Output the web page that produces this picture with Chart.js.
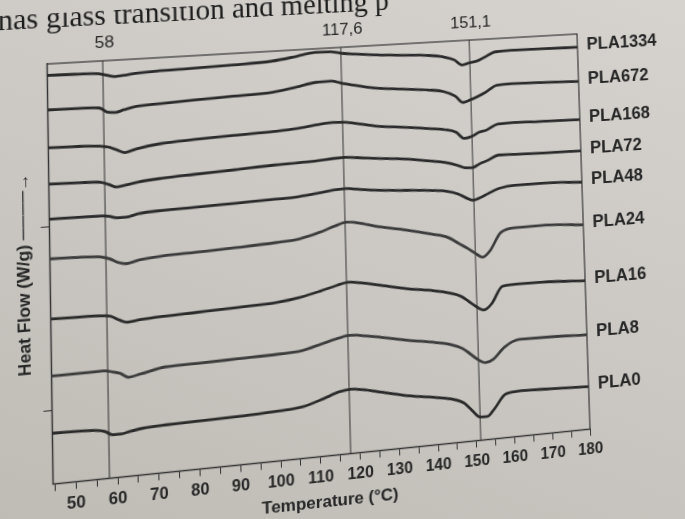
<!DOCTYPE html>
<html lang="en">
<head>
  <meta charset="UTF-8">
  <script src="https://cdn.jsdelivr.net/npm/chart.js"></script>
  <title>DSC PLA</title>
  <style>
    body { margin: 0; width: 685px; height: 519px; overflow: hidden;
           background: linear-gradient(20deg, #bfbbb5 0%, #cac7c2 45%, #d6d3ce 100%); }
    #wrap { position: absolute; left: 0; top: 0; width: 685px; height: 519px; transform-origin: 0 0; }
  </style>
</head>
<body>
  <div id="wrap"><canvas id="dsc" width="685" height="519"></canvas></div>

  <script>
    // temperatures (°C) shared by every curve
    const temps = [44.5, 52, 57, 59, 61, 63, 66, 72, 80, 90, 100, 106, 111, 115, 118, 121, 126, 133, 140, 144, 147, 149, 151, 153, 155, 158, 162, 170, 180]

    // heat flow (curves are stacked with an offset)
    const PLA1334 = [1.836, 1.834, 1.829, 1.818, 1.808, 1.812, 1.820, 1.826, 1.829, 1.835, 1.844, 1.862, 1.880, 1.878, 1.865, 1.857, 1.846, 1.835, 1.825, 1.812, 1.790, 1.758, 1.768, 1.776, 1.795, 1.823, 1.826, 1.825, 1.822]
    const PLA672  = [1.645, 1.643, 1.638, 1.612, 1.608, 1.620, 1.635, 1.642, 1.650, 1.658, 1.667, 1.688, 1.708, 1.710, 1.692, 1.678, 1.656, 1.640, 1.625, 1.610, 1.580, 1.540, 1.553, 1.570, 1.590, 1.628, 1.632, 1.628, 1.620]
    const PLA168  = [1.435, 1.432, 1.426, 1.418, 1.400, 1.381, 1.398, 1.418, 1.428, 1.437, 1.444, 1.452, 1.466, 1.473, 1.470, 1.460, 1.437, 1.420, 1.402, 1.390, 1.370, 1.332, 1.340, 1.362, 1.372, 1.402, 1.405, 1.400, 1.396]
    const PLA72   = [1.235, 1.231, 1.225, 1.210, 1.193, 1.200, 1.212, 1.224, 1.233, 1.243, 1.254, 1.258, 1.262, 1.268, 1.270, 1.264, 1.252, 1.238, 1.215, 1.200, 1.180, 1.162, 1.160, 1.180, 1.195, 1.222, 1.220, 1.216, 1.213]
    const PLA48   = [1.042, 1.041, 1.039, 1.033, 1.022, 1.022, 1.036, 1.045, 1.049, 1.055, 1.061, 1.066, 1.078, 1.090, 1.092, 1.084, 1.070, 1.058, 1.046, 1.035, 1.015, 0.990, 0.972, 0.985, 1.005, 1.030, 1.040, 1.040, 1.030]
    const PLA24   = [0.824, 0.820, 0.812, 0.798, 0.775, 0.765, 0.780, 0.792, 0.798, 0.806, 0.817, 0.828, 0.855, 0.885, 0.902, 0.892, 0.862, 0.832, 0.795, 0.770, 0.728, 0.700, 0.668, 0.641, 0.675, 0.775, 0.795, 0.797, 0.781]
    const PLA16   = [0.495, 0.493, 0.489, 0.482, 0.458, 0.442, 0.450, 0.458, 0.464, 0.472, 0.482, 0.500, 0.525, 0.548, 0.561, 0.553, 0.530, 0.497, 0.472, 0.452, 0.428, 0.395, 0.360, 0.338, 0.370, 0.465, 0.470, 0.468, 0.456]
    const PLA8    = [0.184, 0.186, 0.187, 0.178, 0.165, 0.140, 0.152, 0.178, 0.182, 0.187, 0.192, 0.200, 0.228, 0.250, 0.261, 0.255, 0.235, 0.204, 0.178, 0.158, 0.130, 0.095, 0.058, 0.037, 0.052, 0.115, 0.152, 0.150, 0.143]
    const PLA0    = [-0.126, -0.130, -0.143, -0.166, -0.166, -0.157, -0.147, -0.140, -0.137, -0.132, -0.124, -0.112, -0.080, -0.050, -0.041, -0.050, -0.075, -0.110, -0.135, -0.152, -0.180, -0.225, -0.268, -0.270, -0.228, -0.152, -0.142, -0.148, -0.156]

    const seriesNames = ['PLA1334', 'PLA672', 'PLA168', 'PLA72', 'PLA48', 'PLA24', 'PLA16', 'PLA8', 'PLA0']
    const seriesValues = [PLA1334, PLA672, PLA168, PLA72, PLA48, PLA24, PLA16, PLA8, PLA0]

    // vertical reference lines and their labels
    const markers = [58, 117.6, 151.1]
    const markerLabels = ['58', '117,6', '151,1']

    // axis ticks
    const xMajor = [50, 60, 70, 80, 90, 100, 110, 120, 130, 140, 150, 160, 170, 180]
    const xMinor = [45, 55, 65, 75, 85, 95, 105, 115, 125, 135, 145, 155, 165, 175]
    const yTicks = [0, 1]

    const ink = '#262626'
    const font = "'Liberation Sans', Arial, sans-serif"

    const extras = {
      id: 'extras',
      beforeDatasetsDraw(chart) {
        const { ctx, chartArea: a, scales: { x } } = chart
        ctx.save()
        ctx.strokeStyle = '#333'
        ctx.lineWidth = 1.2
        ctx.strokeRect(a.left, a.top, a.right - a.left, a.bottom - a.top)
        ctx.fillStyle = ink
        ctx.font = '17px ' + font
        ctx.textAlign = 'center'
        ctx.textBaseline = 'alphabetic'
        markers.forEach((m, i) => {
          const px = x.getPixelForValue(m)
          ctx.beginPath()
          ctx.moveTo(px, a.top)
          ctx.lineTo(px, a.bottom)
          ctx.lineWidth = 1
          ctx.stroke()
          ctx.fillText(markerLabels[i], px + 2, a.top - 13)
        })
        // page text above the figure
        ctx.font = '29px "Liberation Serif", serif'
        ctx.textAlign = 'left'
        ctx.fillStyle = '#1c1c1c'
        ctx.fillText('has glass transition and melting p', -2, 14)
        ctx.restore()
      },
      afterDatasetsDraw(chart) {
        const { ctx, chartArea: a, scales: { y } } = chart
        ctx.save()
        ctx.fillStyle = ink
        ctx.font = 'bold 18px ' + font
        ctx.textAlign = 'left'
        ctx.textBaseline = 'middle'
        chart.data.datasets.forEach(ds => {
          const last = ds.data[ds.data.length - 1].y
          ctx.fillText(ds.label, a.right + 10, y.getPixelForValue(last) - 2)
        })
        ctx.restore()
      }
    }

    const ctx = document.getElementById('dsc')
    const chart = new Chart(ctx, {
      type: 'line',
      data: {
        datasets: seriesNames.map((name, i) => ({
          label: name,
          data: temps.map((t, j) => ({ x: t, y: seriesValues[i][j] })),
          borderColor: (name === 'PLA24' || name === 'PLA8') ? '#3c3c3c' : '#2a2a2a',
          borderWidth: 2.8,
          pointRadius: 0,
          cubicInterpolationMode: 'monotone',
          fill: false
        }))
      },
      options: {
        responsive: false,
        animation: false,
        devicePixelRatio: 1,
        layout: { padding: { left: 10, top: 50, right: 102, bottom: 2 } },
        plugins: { legend: { display: false }, tooltip: { enabled: false } },
        scales: {
          x: {
            type: 'linear',
            min: 44.5,
            max: 180,
            afterBuildTicks: s => { s.ticks = xMajor.concat(xMinor).sort((p, q) => p - q).map(v => ({ value: v })) },
            grid: { drawOnChartArea: false, drawTicks: true, tickLength: 7, color: '#333' },
            border: { display: true, color: '#333', width: 1.2 },
            ticks: {
              autoSkip: false, maxRotation: 0, padding: 5, color: ink,
              font: { family: font, size: 16, weight: 'bold' },
              callback: v => xMajor.includes(v) ? String(v) : ''
            },
            title: { display: true, text: 'Temperature (°C)', color: ink, padding: { top: 0, bottom: 0 },
                     font: { family: font, size: 17, weight: 'bold' } }
          },
          y: {
            min: -0.4,
            max: 1.9,
            afterBuildTicks: s => { s.ticks = yTicks.map(v => ({ value: v })) },
            grid: { drawOnChartArea: false, drawTicks: true, tickLength: 8, color: '#333' },
            border: { display: true, color: '#333', width: 1.2 },
            ticks: { callback: () => '', padding: 0 },
            title: { display: true, text: 'Heat Flow (W/g) \u2500\u2500\u2500\u2500\u2192', color: ink, padding: { top: 0, bottom: 6 },
                     font: { family: font, size: 17, weight: 'bold' } }
          }
        }
      },
      plugins: [extras]
    })

    // the reference is a photo of a printed page: map the flat chart area
    // onto the tilted frame seen in the photo
    function homography(src, dst) {
      const A = [], b = []
      for (let i = 0; i < 4; i++) {
        const [x, y] = src[i], [u, v] = dst[i]
        A.push([x, y, 1, 0, 0, 0, -x * u, -y * u]); b.push(u)
        A.push([0, 0, 0, x, y, 1, -x * v, -y * v]); b.push(v)
      }
      for (let c = 0; c < 8; c++) {
        let p = c
        for (let r = c + 1; r < 8; r++) if (Math.abs(A[r][c]) > Math.abs(A[p][c])) p = r
        ;[A[c], A[p]] = [A[p], A[c]]
        ;[b[c], b[p]] = [b[p], b[c]]
        for (let r = 0; r < 8; r++) {
          if (r === c) continue
          const f = A[r][c] / A[c][c]
          for (let k = c; k < 8; k++) A[r][k] -= f * A[c][k]
          b[r] -= f * b[c]
        }
      }
      return b.map((v, i) => v / A[i][i])
    }

    const a = chart.chartArea
    const frame = [[47, 64], [577, 34], [590, 429], [53, 484]]
    const h = homography([[a.left, a.top], [a.right, a.top], [a.right, a.bottom], [a.left, a.bottom]], frame)
    document.getElementById('wrap').style.transform =
      `matrix3d(${h[0]},${h[3]},0,${h[6]},${h[1]},${h[4]},0,${h[7]},0,0,1,0,${h[2]},${h[5]},0,1)`
  </script>
</body>
</html>
